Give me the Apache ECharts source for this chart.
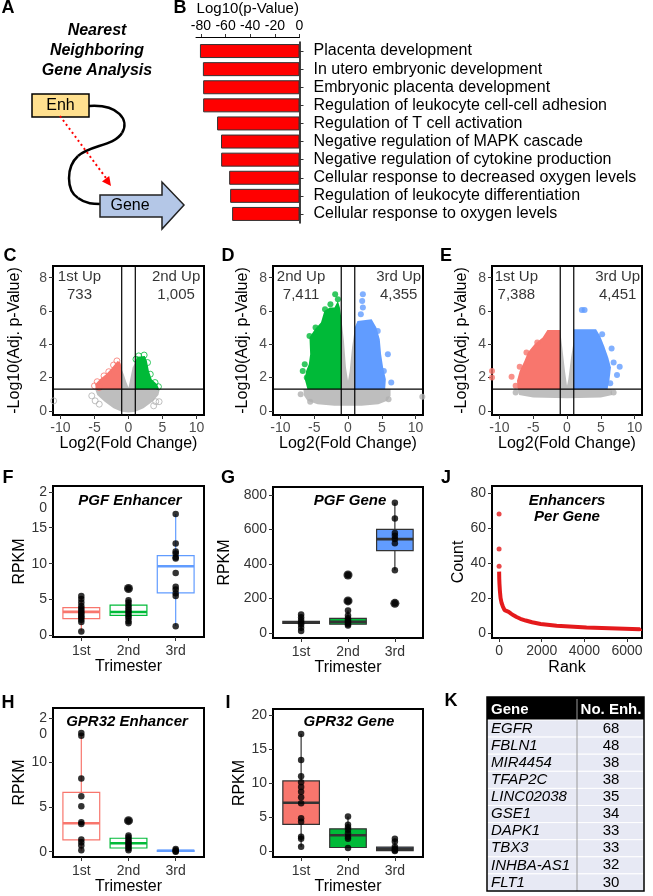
<!DOCTYPE html>
<html>
<head>
<meta charset="utf-8">
<script src="https://cdn.jsdelivr.net/npm/echarts@6/dist/echarts.min.js"></script>
<style>
  html, body { margin: 0; padding: 0; background: #fff; }
  #chart { width: 653px; height: 896px; }
</style>
</head>
<body>
<div id="chart"></div>
<script>
const FONT = '"Liberation Sans", Arial, sans-serif';
const RED = '#F8766D', GREEN = '#00BA38', BLUE = '#619CFF', GRAY = '#BEBEBE';

// ---- B: GO enrichment ----
const goTerms = [
  'Placenta development', 'In utero embryonic development', 'Embryonic placenta development',
  'Regulation of leukocyte cell-cell adhesion', 'Regulation of T cell activation',
  'Negative regulation of MAPK cascade', 'Negative regulation of cytokine production',
  'Cellular response to decreased oxygen levels', 'Regulation of leukocyte differentiation',
  'Cellular response to oxygen levels'
];
const goLogP = [-80.8, -78.4, -78.2, -78.2, -66.9, -63.7, -63.6, -57.1, -56.3, -54.7];
const goTicks = [-80, -60, -40, -20, 0];

// ---- C/D/E: volcano outlines (log2FC, -log10 p) ----
const fcTicks = [-10, -5, 0, 5, 10];
const pTicks = [0, 2, 4, 6, 8];
const fcRange = [-11.1, 11.1];
const pRange = [-0.25, 8.7];
const fcCut = [-1, 1];
const pCut = 1.3;

const cGray = [[-4.9,1.3],[-4.6,0.95],[-3.5,0.55],[-2.2,0.15],[-1,-0.05],[0,-0.1],[1,-0.05],[2.2,0.15],[3.5,0.55],[4.4,0.95],[4.6,1.3],[1,1.3],[1,2.9],[0.6,2.6],[0.3,2.0],[0,1.4],[-0.3,1.7],[-0.7,2.2],[-1,2.5],[-1,1.3]];
const cLeft = [[-1,1.3],[-4.8,1.3],[-4.9,1.6],[-4.2,1.9],[-3.3,2.2],[-2.6,2.5],[-2.0,2.8],[-1.6,3.0],[-1.2,2.9],[-1,2.6]];
const cRight = [[1,1.3],[1,3.0],[1.3,3.25],[2.4,3.3],[2.7,3.0],[3.0,2.4],[3.4,1.9],[4.2,1.6],[4.5,1.3]];
const cGrayDots = [[-5.4,0.9],[-4.9,0.6],[4.0,0.55],[4.5,0.55],[-11,0.6],[-4.3,0.4],[3.7,0.3]];
const cLeftDots = [[-5.0,1.5],[-4.6,1.75],[-3.6,2.1],[-2.2,2.75],[-1.7,3.0],[-2.9,2.35],[-4.3,1.4]];
const cRightDots = [[1.5,3.3],[2.3,3.35],[2.8,2.9],[3.2,2.2],[4.4,1.45],[3.9,1.7],[1.1,3.1]];
const cText = ['1st Up\n733', '2nd Up\n1,005'];
const cTextPos = [[-7.2,7.5],[7.0,7.5]];

const dGray = [[-6.6,1.3],[-6.5,0.9],[-6.0,0.6],[-4.5,0.4],[-2,0.3],[0,0.3],[2,0.3],[4.5,0.4],[5.8,0.6],[6.3,0.9],[6.3,1.3],[1,1.3],[1,4.9],[0.6,3.8],[0.25,2.4],[0,1.8],[-0.3,2.6],[-0.6,4.2],[-1,5.6],[-1,1.3]];
const dLeft = [[-1,1.3],[-6.0,1.3],[-6.4,1.9],[-6.2,2.4],[-5.8,2.8],[-5.6,3.4],[-5.7,4.4],[-4.9,4.9],[-4.0,5.3],[-3.5,6.0],[-2.7,6.2],[-2.0,6.2],[-1.5,6.6],[-1.2,6.2],[-1,5.6]];
const dRight = [[1,1.3],[1,5.0],[1.4,5.4],[3.5,5.5],[4.2,5.0],[4.7,4.3],[4.9,3.4],[5.2,2.6],[5.6,1.9],[5.5,1.3]];
const dGrayDots = [[-5.6,0.55],[6.0,0.7],[11.0,0.85],[-7.0,1.0]];
const dLeftDots = [[-6.7,2.4],[-6.4,2.8],[-5.7,4.5],[-4.8,5.0],[-3.4,6.1],[-1.9,7.0],[-1.5,6.7],[-2.6,6.4],[-6.1,2.0]];
const dRightDots = [[2.2,7.0],[2.1,6.6],[2.2,6.2],[1.9,5.8],[5.9,3.4],[6.4,1.7],[4.4,4.8],[5.3,2.4]];
const dText = ['2nd Up\n7,411', '3rd Up\n4,355'];
const dTextPos = [[-6.95,7.5],[7.5,7.5]];

const eGray = [[-7.3,1.3],[-7.1,0.95],[-5,0.8],[0,0.75],[5,0.8],[6.7,0.95],[6.6,1.3],[1,1.3],[1,4.2],[0.6,3.2],[0.2,1.9],[0,1.5],[-0.3,2.4],[-0.7,3.8],[-1,4.8],[-1,1.3]];
const eLeft = [[-1,1.3],[-7.3,1.3],[-7.4,1.8],[-7.0,2.4],[-6.3,3.0],[-5.8,3.5],[-4.8,4.0],[-3.6,4.4],[-2.9,4.85],[-1,4.85]];
const eRight = [[1,1.3],[1,4.9],[4.3,4.9],[4.9,4.5],[5.5,3.9],[6.1,3.2],[6.5,2.6],[6.3,1.9],[6.0,1.3]];
const eGrayDots = [[-7.6,1.1],[6.9,1.1]];
const eLeftDots = [[-8.2,2.05],[-7.0,2.65],[-11.1,2.4],[-11.1,2.0],[-6.0,3.5],[-4.4,4.1],[-7.6,1.5]];
const eRightDots = [[2.2,6.05],[2.6,6.05],[6.6,3.75],[7.8,2.65],[7.4,2.15],[6.4,1.65],[5.2,4.6],[6.9,2.9]];
const eText = ['1st Up\n7,388', '3rd Up\n4,451'];
const eTextPos = [[-7.5,7.5],[7.5,7.5]];

// ---- F/G/H/I: box stats [min, Q1, median, Q3, max] and sample points ----
const trimesters = ['1st', '2nd', '3rd'];

const fBox = [[0.6,2.35,3.3,3.88,5.5],[1.7,2.81,3.27,4.24,4.93],[1.33,5.95,9.64,11.12,16.9]];
const fPts1 = [5.5,5.1,4.6,4.1,3.8,3.5,3.2,3.0,2.7,2.5,2.2,1.9,0.55];
const fPts2 = [6.55,4.9,4.6,4.2,3.9,3.6,3.3,3.0,2.7,2.4,2.0,1.7];
const fPts3 = [16.9,12.8,11.7,11.4,10.9,10.7,8.7,6.8,6.4,5.9,5.5,1.3];
const fOut = [[2,6.55]];

const gBox = [[10,55,60,66,106],[40,50,64,84,130],[362,476,543,599,754]];
const gPts1 = [106,90,74,60,48,30,10];
const gPts2 = [335,185,130,100,84,74,66,58,50,42];
const gPts3 = [754,663,579,563,543,519,362,171];
const gOut = [[2,335],[2,185],[3,171]];

const hBox = [[0.11,1.31,3.18,6.64,13.17],[0.11,0.41,0.94,1.5,1.79],[0,0.02,0.1,0.15,0.3]];
const hPts1 = [13.3,13.0,8.2,6.2,5.1,3.3,3.1,1.35,1.05,0.7,0.15];
const hPts2 = [3.47,1.8,1.6,1.35,1.15,0.95,0.75,0.55,0.35,0.15];
const hPts3 = [0.3,0.15,0.05,0];
const hOut = [[2,3.47]];

const iBox = [[0.6,3.9,7.1,10.3,17.2],[0.44,0.5,2.3,3.25,5.06],[0,0.05,0.3,0.55,1.8]];
const iPts1 = [17.2,13.4,11.0,10.1,9.4,8.7,7.9,7.0,4.8,4.3,2.1,1.8,0.6];
const iPts2 = [5.06,3.84,3.5,3.1,2.6,2.1,1.8,0.44];
const iPts3 = [1.8,1.4,0.6,0.3,0.1,0];

// ---- J: enhancers per gene by rank ----
const jTop = [[1,68],[2,48],[3,38]];
const jCurve = [[4,35],[10,31],[20,28],[40,24],[70,20],[120,17],[180,15],[260,13],[350,12],[450,11],[560,10],[680,9],[820,8],[1000,7],[1250,6],[1550,5],[1950,4],[2700,3],[4100,2],[6600,1]];

// ---- K: table ----
const tblGenes = ['EGFR','FBLN1','MIR4454','TFAP2C','LINC02038','GSE1','DAPK1','TBX3','INHBA-AS1','FLT1'];
const tblCounts = [68,48,38,38,35,34,33,33,32,30];

const chart = echarts.init(document.getElementById('chart'));

const grids = [], xAxes = [], yAxes = [], series = [], graphicEls = [];
const tickStyle = { show: true, length: 4, lineStyle: { color: '#333', width: 1 } };
const labelStyle = { fontSize: 14, color: '#333', fontFamily: FONT };
const nameStyle = { fontSize: 16, color: '#000', fontFamily: FONT };

function addGrid(left, top, width, height, border) {
  grids.push({ left, top, width, height, show: border, borderColor: '#000', borderWidth: 2 });
  return grids.length - 1;
}

function valueAxis(g, min, max, ticks, name, gap, extra) {
  return Object.assign({
    gridIndex: g, type: 'value', min: min, max: max,
    splitLine: { show: false }, axisLine: { show: false, onZero: false },
    axisTick: Object.assign({ customValues: ticks }, tickStyle),
    axisLabel: Object.assign({ customValues: ticks, margin: 6, formatter: v => String(v) }, labelStyle),
    name: name, nameLocation: 'middle', nameGap: gap, nameTextStyle: nameStyle
  }, extra || {});
}

function polygon(g, pts, color) {
  return {
    type: 'custom', xAxisIndex: g, yAxisIndex: g, silent: true, z: 2, data: pts, encode: { x: 0, y: 1 },
    label: { show: false },
    renderItem: function (params, api) {
      if (params.dataIndex !== 0) return null;
      return { type: 'polygon', shape: { points: pts.map(p => api.coord(p)) }, style: { fill: color } };
    }
  };
}

function dots(g, pts, color, hollow, size, z) {
  return {
    type: 'scatter', xAxisIndex: g, yAxisIndex: g, silent: true, z: z || 3, data: pts, symbolSize: size || 6,
    itemStyle: hollow ? { color: 'rgba(0,0,0,0)', borderColor: color, borderWidth: 1 } : { color: color }
  };
}

// threshold lines at |log2FC| = 1 and p = 0.05, spanning the axis ranges
function cutLine(g, pts) {
  return {
    type: 'line', xAxisIndex: g, yAxisIndex: g, silent: true, z: 5, data: pts, showSymbol: false,
    lineStyle: { color: '#000', width: 1.2 }
  };
}

function volcano(g, gray, left, right, grayDots, leftDots, rightDots, leftColor, rightColor, hollow, texts, textPos, yGap) {
  xAxes.push(valueAxis(g, fcRange[0], fcRange[1], fcTicks, 'Log2(Fold Change)', 17, { axisLabel: Object.assign({ customValues: fcTicks, margin: 6 }, labelStyle, { color: '#4d4d4d' }) }));
  yAxes.push(valueAxis(g, pRange[0], pRange[1], pTicks, '-Log10(Adj. p-Value)', yGap, { axisLabel: Object.assign({ customValues: pTicks, margin: 6 }, labelStyle, { color: '#4d4d4d' }) }));
  series.push(polygon(g, gray, GRAY), polygon(g, left, leftColor), polygon(g, right, rightColor));
  series.push(dots(g, grayDots, '#b0b0b0', hollow), dots(g, leftDots, leftColor, hollow), dots(g, rightDots, rightColor, hollow));
  fcCut.forEach(v => series.push(cutLine(g, [[v, pRange[0]], [v, pRange[1]]])));
  series.push(cutLine(g, [[fcRange[0], pCut], [fcRange[1], pCut]]));
  series.push({
    type: 'scatter', xAxisIndex: g, yAxisIndex: g, silent: true, z: 6, symbolSize: 1,
    itemStyle: { color: 'rgba(0,0,0,0)' },
    data: textPos.map((p, i) => ({ value: p, label: { formatter: texts[i] } })),
    label: { show: true, position: 'inside', fontSize: 15, lineHeight: 18, color: '#000', align: 'center', fontFamily: FONT }
  });
}

function boxSeries(g, stats, stroke, fill) {
  return {
    type: 'custom', xAxisIndex: g, yAxisIndex: g, silent: true, z: 2,
    data: stats.map((s, i) => [i + 1].concat(s)),
    encode: { x: 0, y: [1, 2, 3, 4, 5] },
    renderItem: function (params, api) {
      const x = api.value(0), i = params.dataIndex;
      const c = k => api.coord([x, api.value(k)]);
      const lo = c(1), q1 = c(2), md = c(3), q3 = c(4), hi = c(5);
      const hw = api.size([0.78, 0])[0] / 2;
      return {
        type: 'group', children: [
          { type: 'line', shape: { x1: lo[0], y1: lo[1], x2: hi[0], y2: hi[1] }, style: { stroke: stroke[i], lineWidth: 1.2 } },
          { type: 'rect', shape: { x: md[0] - hw, y: q3[1], width: 2 * hw, height: q1[1] - q3[1] }, style: { fill: fill[i], stroke: stroke[i], lineWidth: 1.2 } },
          { type: 'line', shape: { x1: md[0] - hw, y1: md[1], x2: md[0] + hw, y2: md[1] }, style: { stroke: stroke[i], lineWidth: 2.6 } }
        ]
      };
    }
  };
}

function boxPanel(g, stats, groups, outliers, stroke, fill, yMin, yMax, yTicks, yFmt, yGap) {
  xAxes.push(valueAxis(g, 0.4, 3.6, [1, 2, 3], 'Trimester', 22, {
    axisLabel: Object.assign({ customValues: [1, 2, 3], margin: 7, formatter: v => trimesters[v - 1] }, labelStyle)
  }));
  yAxes.push(valueAxis(g, yMin, yMax, yTicks, 'RPKM', yGap, {
    axisLabel: Object.assign({ customValues: yTicks, margin: 6, lineHeight: 16, formatter: yFmt }, labelStyle)
  }));
  series.push(boxSeries(g, stats, stroke, fill));
  const pts = [];
  groups.forEach((arr, i) => arr.forEach(v => pts.push([i + 1, v])));
  series.push(dots(g, pts, '#000', false, 6.5, 4));
  series.push(dots(g, outliers, '#000', false, 9, 4));
}

// B
const gB = addGrid(196, 41, 103.5, 182, false);
xAxes.push({
  gridIndex: gB, type: 'value', position: 'top', offset: 5, min: -84, max: 0,
  splitLine: { show: false },
  axisLine: { show: true, onZero: false, lineStyle: { color: '#000', width: 1 } },
  axisTick: Object.assign({ customValues: goTicks }, tickStyle, { length: 3 }),
  axisLabel: Object.assign({ customValues: goTicks, margin: 4 }, labelStyle, { color: '#000' }),
  name: 'Log10(p-Value)', nameLocation: 'middle', nameGap: 21, nameTextStyle: { fontSize: 15, color: '#000', fontFamily: FONT }
});
yAxes.push({
  gridIndex: gB, type: 'category', data: goTerms, inverse: true, position: 'right',
  axisLine: { show: true, onZero: false, lineStyle: { color: '#000', width: 1.5 } },
  axisTick: { show: true, length: 4, alignWithLabel: true, interval: 0, lineStyle: { color: '#333' } },
  axisLabel: { fontSize: 16, color: '#000', margin: 14, interval: 0, fontFamily: FONT }
});
series.push({
  type: 'bar', xAxisIndex: gB, yAxisIndex: gB, data: goLogP, barWidth: 14, silent: true,
  itemStyle: { color: '#FF0000', borderColor: '#333', borderWidth: 1 }
});

// C, D, E
const gC = addGrid(53, 266, 151, 149, true);
volcano(gC, cGray, cLeft, cRight, cGrayDots, cLeftDots, cRightDots, RED, GREEN, true, cText, cTextPos, 30);
const gD = addGrid(273, 266, 150, 149, true);
volcano(gD, dGray, dLeft, dRight, dGrayDots, dLeftDots, dRightDots, GREEN, BLUE, false, dText, dTextPos, 22);
const gE = addGrid(492, 266, 150, 149, true);
volcano(gE, eGray, eLeft, eRight, eGrayDots, eLeftDots, eRightDots, RED, BLUE, false, eText, eTextPos, 22);

// F, G
const gF = addGrid(53, 486, 151, 151, true);
boxPanel(gF, fBox, [fPts1, fPts2, fPts3], fOut, [RED, GREEN, BLUE], ['#fff', '#fff', '#fff'],
  -0.2, 20.8, [0, 5, 10, 15, 20], v => (v === 20 ? '\n2\n0' : String(v)), 25);
const gG = addGrid(273, 487, 150, 151, true);
boxPanel(gG, gBox, [gPts1, gPts2, gPts3], gOut, ['#333', '#333', '#333'], [RED, GREEN, BLUE],
  -30, 845, [0, 200, 400, 600, 800], v => String(v), 40);

// J
const gJ = addGrid(492, 486, 150, 152, true);
xAxes.push(valueAxis(gJ, -330, 6700, [0, 2000, 4000, 6000], 'Rank', 22));
yAxes.push(valueAxis(gJ, -3, 84, [0, 20, 40, 60, 80], 'Count', 25));
series.push({
  type: 'line', xAxisIndex: gJ, yAxisIndex: gJ, data: jCurve, step: 'end', showSymbol: false, silent: true,
  lineStyle: { color: '#E41A1C', width: 4 }, z: 3
});
series.push(dots(gJ, jTop, '#E41A1C', false, 5));

// H, I
const gH = addGrid(53, 708, 151, 150, true);
boxPanel(gH, hBox, [hPts1, hPts2, hPts3], hOut, [RED, GREEN, BLUE], ['#fff', '#fff', '#fff'],
  -0.6, 16.1, [0, 5, 10, 15], v => (v === 15 ? '\n2\n0' : String(v)), 25);
const gI = addGrid(273, 709, 150, 150, true);
boxPanel(gI, iBox, [iPts1, iPts2, iPts3], [], ['#333', '#333', '#333'], [RED, GREEN, BLUE],
  -0.9, 20.9, [0, 5, 10, 15, 20], v => String(v), 25);

// ---- text labels ----
function label(text, x, y, font, opts) {
  graphicEls.push({
    type: 'text', x: x, y: y, silent: true, z: 10,
    style: Object.assign({ text: text, font: font, fill: '#000', align: 'center', verticalAlign: 'middle' }, opts || {})
  });
}
const letterFont = 'bold 18px ' + FONT;
[['A', 8, 8], ['B', 180, 8], ['C', 10, 256], ['D', 228, 256], ['E', 446, 256],
 ['F', 8, 478], ['G', 228, 478], ['J', 446, 478], ['H', 8, 703], ['I', 228, 703], ['K', 451, 701]]
  .forEach(l => label(l[0], l[1], l[2], letterFont));

const titleFont = 'italic bold 15px ' + FONT;
label('PGF Enhancer', 130, 501, titleFont);
label('PGF Gene', 350, 501, titleFont);
label('Enhancers\nPer Gene', 567, 509, titleFont, { lineHeight: 16 });
label('GPR32 Enhancer', 127, 722, titleFont);
label('GPR32 Gene', 349, 722, titleFont);

// ---- A: schematic ----
label('Nearest\nNeighboring\nGene Analysis', 97, 51, 'italic bold 16px ' + FONT, { lineHeight: 20 });
const loopSegs = [
  [89, 106, 118, 104, 130, 120, 122, 133],
  [122, 133, 114, 146, 90, 145, 78, 156],
  [78, 156, 66, 167, 66, 190, 78, 198],
  [78, 198, 86, 204, 94, 204, 100, 204]
];
loopSegs.forEach(s => graphicEls.push({
  type: 'bezierCurve', silent: true,
  shape: { x1: s[0], y1: s[1], cpx1: s[2], cpy1: s[3], cpx2: s[4], cpy2: s[5], x2: s[6], y2: s[7] },
  style: { fill: 'none', stroke: '#000', lineWidth: 2.5 }
}));
graphicEls.push({ type: 'rect', silent: true, shape: { x: 32, y: 94, width: 57, height: 23 }, style: { fill: '#FFE08F', stroke: '#000', lineWidth: 1.5 } });
label('Enh', 60.5, 105.5, '16px ' + FONT);
graphicEls.push({ type: 'polygon', silent: true, shape: { points: [[100,195],[162,195],[162,182],[184,205],[162,229],[162,217],[100,217]] },
  style: { fill: '#B4C7E7', stroke: '#222', lineWidth: 1.5 } });
label('Gene', 130, 206, '16px ' + FONT);
graphicEls.push({ type: 'line', silent: true, shape: { x1: 60, y1: 116, x2: 106, y2: 178 }, style: { stroke: '#FF0000', lineWidth: 2, lineDash: [2, 3] } });
graphicEls.push({ type: 'polygon', silent: true, shape: { points: [[111,186],[109.2,176.1],[102,181.5]] }, style: { fill: '#FF0000' } });

// ---- K: table ----
const tblX = 487, tblW = 157, tblTop = 697, headH = 23, rowH = 17.1, colX = 577;
const cellFont = '15px ' + FONT;
graphicEls.push({ type: 'rect', silent: true, shape: { x: tblX, y: tblTop, width: tblW, height: headH }, style: { fill: '#000' } });
label('Gene', tblX + 4, tblTop + headH / 2 + 1, 'bold ' + cellFont, { fill: '#fff', align: 'left' });
label('No. Enh.', 611, tblTop + headH / 2 + 1, 'bold ' + cellFont, { fill: '#fff' });
tblGenes.forEach((gname, i) => {
  const y = tblTop + headH + i * rowH;
  graphicEls.push({ type: 'rect', silent: true, shape: { x: tblX, y: y, width: tblW, height: rowH }, style: { fill: '#E7E9F4', stroke: '#fff', lineWidth: 1 } });
  label(gname, tblX + 4, y + rowH / 2, 'italic ' + cellFont, { align: 'left' });
  label(String(tblCounts[i]), 611, y + rowH / 2, cellFont);
});
graphicEls.push({ type: 'line', silent: true, shape: { x1: colX, y1: tblTop + 2, x2: colX, y2: tblTop + headH + 10 * rowH }, style: { stroke: '#9a9a9a', lineWidth: 1 } });
graphicEls.push({ type: 'rect', silent: true, shape: { x: tblX, y: tblTop, width: tblW, height: headH + 10 * rowH }, style: { fill: 'none', stroke: '#000', lineWidth: 1.5 } });

chart.setOption({
  animation: false,
  textStyle: { fontFamily: FONT },
  grid: grids,
  xAxis: xAxes,
  yAxis: yAxes,
  series: series,
  graphic: graphicEls
});
</script>
</body>
</html>
